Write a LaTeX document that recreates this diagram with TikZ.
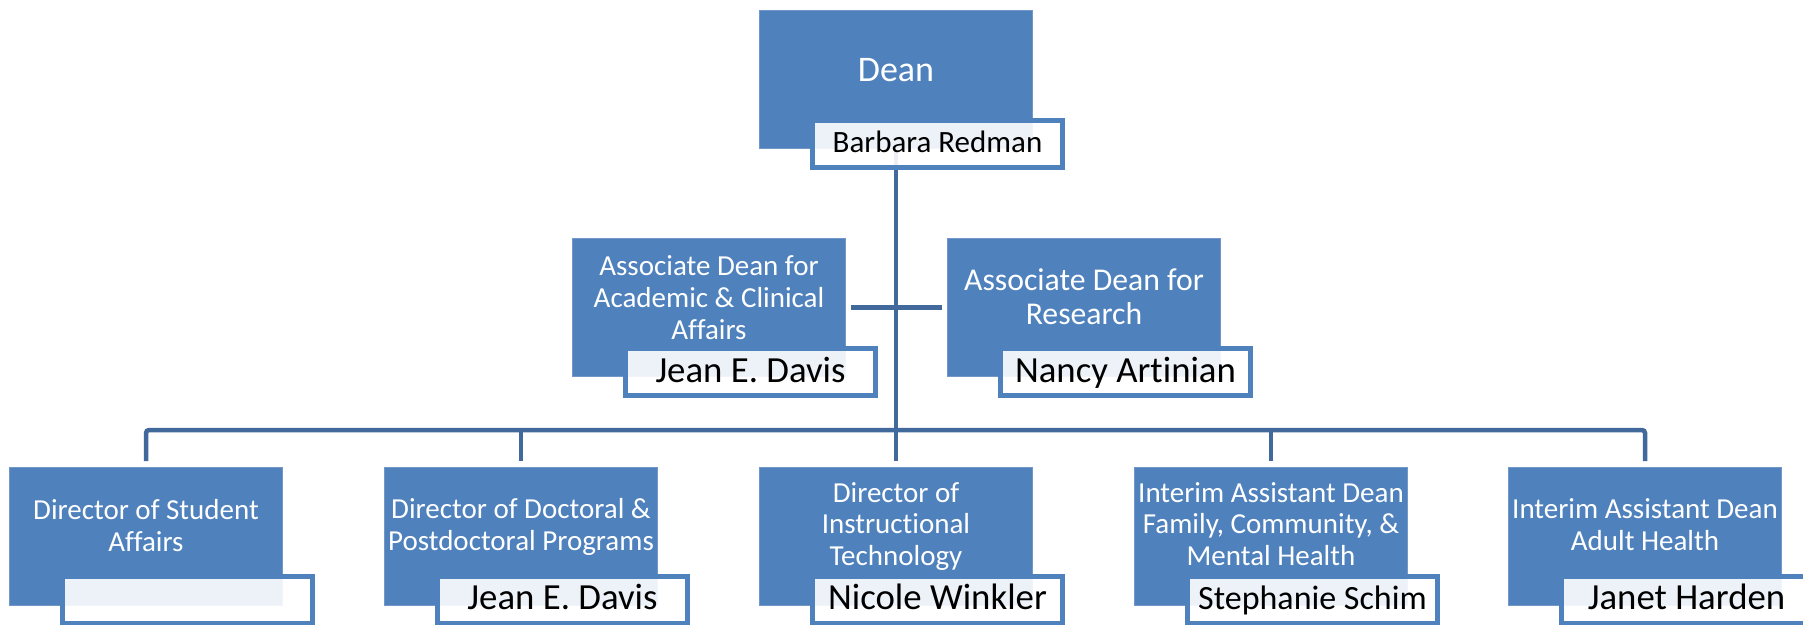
\documentclass[tikz,border=0pt]{standalone}
\usepackage{fontspec}
\setmainfont{Carlito}[Ligatures=NoCommon]
\definecolor{boxblue}{HTML}{4F81BD}
\definecolor{boxedge}{HTML}{7397C8}
\definecolor{connblue}{HTML}{41699B}
\begin{document}
\begin{tikzpicture}[x=1pt,y=-1pt,
  posbox/.style={rectangle, fill=boxblue, draw=boxedge, line width=1pt,
    minimum width=273pt, minimum height=138pt, inner sep=0pt},
  namebox/.style={rectangle, draw=boxblue, line width=5pt, fill=white,
    fill opacity=0.9, draw opacity=1, minimum width=250pt, minimum height=47pt,
    inner sep=0pt},
  connline/.style={draw=connblue, line width=4.5pt},
  ttl/.style={anchor=base, text=white, inner sep=0pt, font=\fontsize{29}{32}\selectfont},
  ttlbig/.style={anchor=base, text=white, inner sep=0pt, font=\fontsize{31.7}{34}\selectfont},
  ttldean/.style={anchor=base, text=white, inner sep=0pt, font=\fontsize{36}{40}\selectfont},
  nametxt/.style={anchor=base, text=black, inner sep=0pt, font=\fontsize{36.8}{40}\selectfont},
]
\useasboundingbox (0,0) rectangle (1803,624);
\clip (0,0) rectangle (1803,624);

% position boxes
\node[posbox] (dean) at (896,79.5) {};
\node[posbox] (a1) at (709,307.5) {};
\node[posbox] (a2) at (1084,307.5) {};
\node[posbox] (b1) at (146,536) {};
\node[posbox] (b2) at (521,536) {};
\node[posbox] (b3) at (896,536) {};
\node[posbox] (b4) at (1271,536) {};
\node[posbox] (b5) at (1645,536) {};

% connectors
\coordinate (bus) at (896,430);
\draw[connline, shorten >=5.5pt] (dean.south) -- (b3.north);
\draw[connline, shorten <=5pt, shorten >=5pt] (a1.east) -- (a2.west);
\draw[connline, rounded corners=3pt, shorten <=5.5pt, shorten >=5.5pt]
  (b1.north) |- (bus) -| (b5.north);
\draw[connline, shorten >=5.5pt] (b2.north |- bus) -- (b2.north);
\draw[connline, shorten >=5.5pt] (b4.north |- bus) -- (b4.north);

% name boxes
\node[namebox] (ndean) at (937.5,143.5) {};
\node[namebox] (na1) at (750.5,371.5) {};
\node[namebox] (na2) at (1125.5,371.5) {};
\node[namebox] (nb1) at (187.5,600) {};
\node[namebox] (nb2) at (562.5,600) {};
\node[namebox] (nb3) at (937.5,600) {};
\node[namebox] (nb4) at (1312.5,600) {};
\node[namebox] (nb5) at (1686.5,600) {};

% titles
\node[ttldean] (tdean) at (896,81) {Dean};
\node[ttl] (ta1l1) at (709,275) {Associate Dean for};
\node[ttl] (ta1l2) at (709,307) {Academic \& Clinical};
\node[ttl] (ta1l3) at (709,339) {Affairs};
\node[ttlbig] (ta2l1) at (1084,290) {Associate Dean for};
\node[ttlbig] (ta2l2) at (1084,324) {Research};
\node[ttl] (tb1l1) at (146,519) {Director of Student};
\node[ttl] (tb1l2) at (146,551) {Affairs};
\node[ttl] (tb2l1) at (521,518) {Director of Doctoral \&};
\node[ttl] (tb2l2) at (521,550) {Postdoctoral Programs};
\node[ttl] (tb3l1) at (896,502) {Director of};
\node[ttl] (tb3l2) at (896,533.5) {Instructional};
\node[ttl] (tb3l3) at (896,565) {Technology};
\node[ttl] (tb4l1) at (1271,502) {Interim Assistant Dean};
\node[ttl] (tb4l2) at (1271,533.5) {Family, Community, \&};
\node[ttl] (tb4l3) at (1271,565) {Mental Health};
\node[ttl] (tb5l1) at (1645,518) {Interim Assistant Dean};
\node[ttl] (tb5l2) at (1645,550) {Adult Health};

% names
\node[nametxt, font=\fontsize{31}{34}\selectfont] (xdean) at (937.5,152) {Barbara Redman};
\node[nametxt] (xa1) at (750.5,382) {Jean E. Davis};
\node[nametxt] (xa2) at (1125.5,382) {Nancy Artinian};
\node[nametxt] (xb2) at (562.5,609) {Jean E. Davis};
\node[nametxt] (xb3) at (937.5,609) {Nicole Winkler};
\node[nametxt, font=\fontsize{34}{37}\selectfont] (xb4) at (1312.5,609) {Stephanie Schim};
\node[nametxt] (xb5) at (1686.5,609) {Janet Harden};
\end{tikzpicture}
\end{document}
